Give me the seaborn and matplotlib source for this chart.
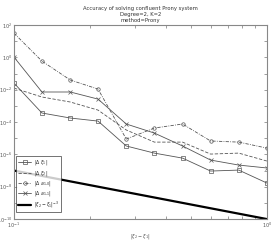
# Prony系の精度プロット (confluent case)

import numpy as np
import pandas as pd
import seaborn as sns
import matplotlib.pyplot as plt
from matplotlib.ticker import NullFormatter, FixedLocator

# 横軸: |xi2 - xi1|
dist = [0.1, 0.129, 0.167, 0.215, 0.278, 0.359, 0.464, 0.599, 0.774, 1.0]

# 誤差 (log10で読み取り)
err_xi1 = [-1.59, -3.44, -3.75, -3.94, -5.48, -5.92, -6.23, -7.03, -6.97, -7.77]
err_xi2 = [-1.90, -2.45, -2.76, -3.26, -4.49, -5.24, -5.24, -5.98, -5.92, -6.41]
err_a10 = [1.50, -0.23, -1.40, -1.96, -5.05, -4.37, -4.12, -5.17, -5.24, -5.61]
err_a11 = [0.02, -2.14, -2.14, -2.58, -4.12, -4.68, -5.48, -6.35, -6.66, -6.84]

# 参照線 |xi2-xi1|^-3 (スケール 1e-10)
ref_x = [0.1, 1.0]
ref_y = [1e-7, 1e-10]

sns.set_style('ticks')
plt.rcParams['font.family'] = ['DejaVu Sans']

fig = plt.figure(figsize=(2.74, 2.41), dpi=100)
ax = fig.add_axes([0.051, 0.091, 0.923, 0.805])

gray = '#555555'
df = pd.DataFrame({'x': dist})
series = [
    (err_xi1, r'$|\Delta\ \xi_1|$', '-', 's'),
    (err_xi2, r'$|\Delta\ \xi_2|$', (0, (4, 2)), None),
    (err_a10, r'$|\Delta\ a_{1,0}|$', (0, (4, 1.5, 1, 1.5)), 'o'),
    (err_a11, r'$|\Delta\ a_{1,1}|$', '-', 'x'),
]
for vals, lab, ls, mk in series:
    df['y'] = 10 ** np.array(vals)
    sns.lineplot(data=df, x='x', y='y', ax=ax, color=gray, lw=0.6, linestyle=ls,
                 marker=mk, markersize=2.5, markerfacecolor='none',
                 markeredgecolor=gray, markeredgewidth=0.5, label=lab)

sns.lineplot(x=ref_x, y=ref_y, ax=ax, color='black', lw=1.6,
             label=r'$|\xi_2-\xi_1|^{-3}$')

ax.set_xscale('log')
ax.set_yscale('log')
ax.set_xlim(0.1, 1.0)
ax.set_ylim(1e-10, 1e2)
ax.set_yticks([1e2, 1e0, 1e-2, 1e-4, 1e-6, 1e-8, 1e-10])
ax.yaxis.set_minor_locator(FixedLocator([1e1, 1e-1, 1e-3, 1e-5, 1e-7, 1e-9]))
ax.yaxis.set_minor_formatter(NullFormatter())
ax.set_xticks([0.1, 1.0])
ax.xaxis.set_minor_formatter(NullFormatter())
ax.tick_params(which='both', direction='in', labelsize=3.5, length=2, width=0.4,
               colors=gray, top=True, right=True, pad=1.5)
for sp in ax.spines.values():
    sp.set_color('#888888')
    sp.set_linewidth(0.8)

ax.set_xlabel(r'$|\xi_2-\xi_1|$', fontsize=3.5, color=gray, labelpad=1)
ax.set_ylabel('')
ax.set_title('Accuracy of solving confluent Prony system\nDegree=2, K=2\nmethod=Prony',
             fontsize=3.8, color='#333333', pad=2, linespacing=1.3)

leg = ax.legend(loc='lower left', bbox_to_anchor=(0.005, 0.03), fontsize=3.3,
                frameon=True, fancybox=False, edgecolor='#333333',
                handlelength=2.8, handletextpad=0.5, labelspacing=0.3,
                borderpad=0.5, borderaxespad=0.2)
leg.get_frame().set_linewidth(0.6)

plt.savefig('out.png', dpi=100)
plt.close()
